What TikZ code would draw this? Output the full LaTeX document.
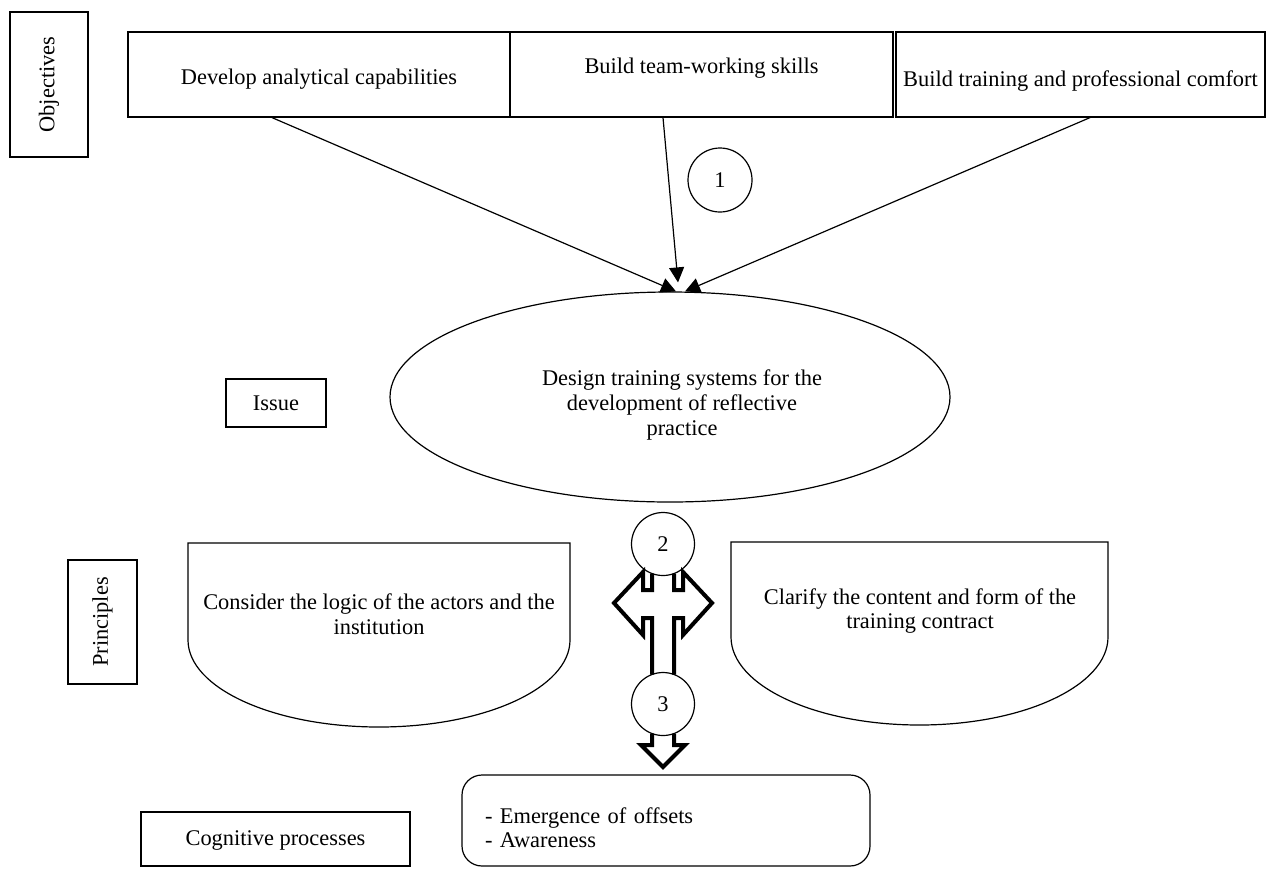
\documentclass[tikz,border=0pt]{standalone}
\usepackage{fontspec}
\setmainfont{Liberation Serif}
\usetikzlibrary{arrows.meta,positioning,shapes.geometric,calc}

\begin{document}
\begin{tikzpicture}[x=0.5pt,y=-0.5pt,line width=0.6pt,
    every node/.style={font=\fontsize{11.2}{12.3}\selectfont},
    box/.style={draw,rectangle,inner sep=0pt},
    numcirc/.style={draw,circle,fill=white,minimum size=31.5pt,inner sep=0pt},
    flow/.style={-{Triangle[length=7.5pt,width=7.5pt]}},
    fat/.style={line width=2pt,line join=miter}]
    \useasboundingbox (0,0) rectangle (1267,868);
    % Objectives
    \node[box,rotate=90,minimum width=72.5pt,minimum height=39pt] (obj) at (49,84.5) {Objectives};
    \node[box,minimum width=191pt,minimum height=42.5pt,text height=12pt] (dev) at (319,74.5) {Develop analytical capabilities};
    \node[box,minimum width=191.5pt,minimum height=42.5pt,text depth=9pt] (team) at (701.5,74.5) {Build team-working skills};
    \node[box,minimum width=184.5pt,minimum height=42.5pt,text height=14pt] (comf) at (1080.5,74.5) {Build training and professional comfort};
    \node[numcirc,minimum size=32pt] (n1) at (720,180) {1};
    % Issue
    \node[draw,ellipse,minimum width=280pt,minimum height=105pt,inner sep=0pt] (des) at (670,397) {};
    \node[align=center] (destext) at ($(des.center)+(12,8)$)
        {Design training systems for the\\development of reflective\\practice};
    \node[box,minimum width=50pt,minimum height=24pt] (iss) at (276,403) {Issue};
    \draw[flow] ($(dev.south)+(-47,0)$) -- ($(des.north)+(6,0)$);
    \draw[flow] ($(team.south)+(-38.5,0)$) -- ($(des.north)+(8,-9)$);
    \draw[flow] ($(comf.south)+(9.5,0)$) -- ($(des.north)+(15,0)$);
    % Principles
    \node[box,rotate=90,minimum width=62pt,minimum height=34.5pt] (prin) at (102.5,622) {Principles};
    \draw (188,543) -- (188,640) arc[start angle=180,end angle=0,x radius=191,y radius=87] -- (570,543) -- cycle;
    \draw (731,542) -- (731,637) arc[start angle=180,end angle=0,x radius=188.5,y radius=88] -- (1108,542) -- cycle;
    \node[align=center] (actors) at (379,614) {Consider the logic of the actors and the\\institution};
    \node[align=center] (contract) at (920,611) {Clarify the content and form of the\\training contract};
    \node[numcirc] (n2) at (663,544) {2};
    \node[numcirc] (n3) at (663,704) {3};
    % Hollow block arrows
    \begin{scope}[shift={(n2.center)},fat]
        \draw (-11,29.5) -- (-11,46) -- (-20,46) -- (-20,28) -- (-49,59) -- (-20,91) -- (-20,74) -- (-11,74) -- (-11,130.5);
        \draw (11,29.5) -- (11,46) -- (20,46) -- (20,28) -- (49,59) -- (20,91) -- (20,74) -- (11,74) -- (11,130.5);
    \end{scope}
    \begin{scope}[shift={(n3.center)},fat]
        \draw (-11,29.5) -- (-11,41) -- (-22,41) -- (0,63) -- (22,41) -- (11,41) -- (11,29.5);
    \end{scope}
    % Cognitive processes
    \node[draw,rounded corners=10pt,text width=181pt,inner xsep=11.5pt,inner ysep=0pt,
        text height=15pt,minimum height=45.5pt,align=left] (proc) at (666,820.5)
        {- Emergence of offsets\\- Awareness};
    \node[box,minimum width=134.5pt,minimum height=27pt,text height=9pt] (cog) at (275.5,839) {Cognitive processes};
\end{tikzpicture}
\end{document}
